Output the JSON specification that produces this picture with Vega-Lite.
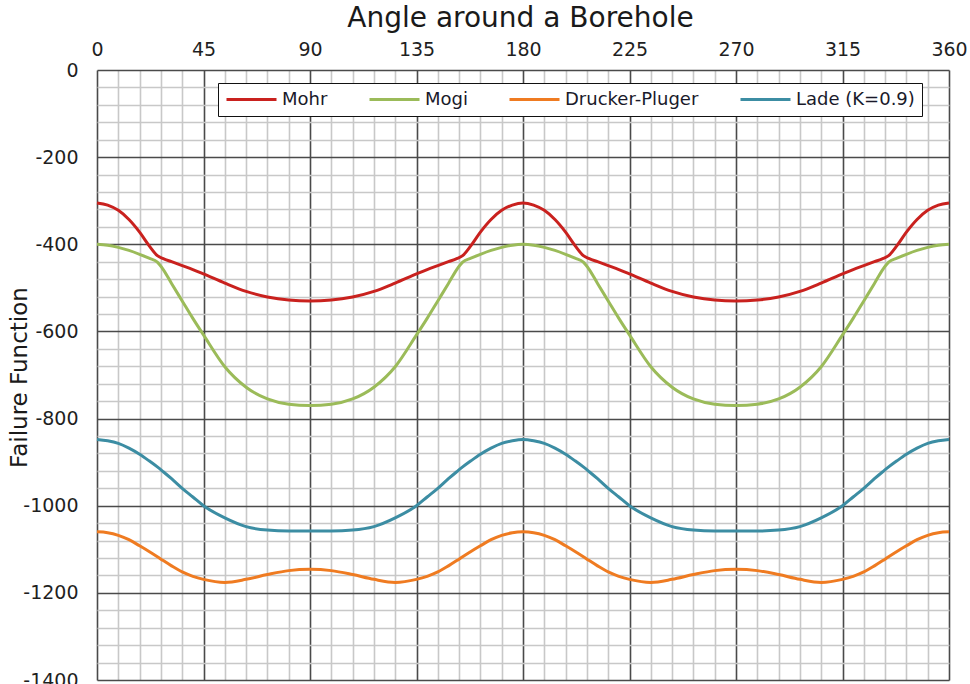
{
  "$schema": "https://vega.github.io/schema/vega-lite/v6.json",
  "width": 852,
  "height": 610,
  "autosize": {"type": "none"},
  "padding": {"left": 97, "top": 70, "right": 21, "bottom": 4},
  "background": "white",
  "config": {
    "view": {"stroke": null},
    "font": "DejaVu Sans"
  },
  "data": {
    "values": [
      {"angle":0,"criterion":"Mohr","value":-305},{"angle":4.5,"criterion":"Mohr","value":-310},{"angle":9,"criterion":"Mohr","value":-322},{"angle":13.5,"criterion":"Mohr","value":-343},{"angle":18,"criterion":"Mohr","value":-372},{"angle":22,"criterion":"Mohr","value":-403},{"angle":25.5,"criterion":"Mohr","value":-426},{"angle":28,"criterion":"Mohr","value":-433},{"angle":31.5,"criterion":"Mohr","value":-440},{"angle":36,"criterion":"Mohr","value":-449},{"angle":40.5,"criterion":"Mohr","value":-458},{"angle":45,"criterion":"Mohr","value":-468},{"angle":54,"criterion":"Mohr","value":-489},{"angle":63,"criterion":"Mohr","value":-508},{"angle":72,"criterion":"Mohr","value":-521},{"angle":81,"criterion":"Mohr","value":-528},{"angle":90,"criterion":"Mohr","value":-530},
      {"angle":99,"criterion":"Mohr","value":-528},{"angle":108,"criterion":"Mohr","value":-521},{"angle":117,"criterion":"Mohr","value":-508},{"angle":126,"criterion":"Mohr","value":-489},{"angle":135,"criterion":"Mohr","value":-468},{"angle":139.5,"criterion":"Mohr","value":-458},{"angle":144,"criterion":"Mohr","value":-449},{"angle":148.5,"criterion":"Mohr","value":-440},{"angle":152,"criterion":"Mohr","value":-433},{"angle":154.5,"criterion":"Mohr","value":-426},{"angle":158,"criterion":"Mohr","value":-403},{"angle":162,"criterion":"Mohr","value":-372},{"angle":166.5,"criterion":"Mohr","value":-343},{"angle":171,"criterion":"Mohr","value":-322},{"angle":175.5,"criterion":"Mohr","value":-310},{"angle":180,"criterion":"Mohr","value":-305},
      {"angle":184.5,"criterion":"Mohr","value":-310},{"angle":189,"criterion":"Mohr","value":-322},{"angle":193.5,"criterion":"Mohr","value":-343},{"angle":198,"criterion":"Mohr","value":-372},{"angle":202,"criterion":"Mohr","value":-403},{"angle":205.5,"criterion":"Mohr","value":-426},{"angle":208,"criterion":"Mohr","value":-433},{"angle":211.5,"criterion":"Mohr","value":-440},{"angle":216,"criterion":"Mohr","value":-449},{"angle":220.5,"criterion":"Mohr","value":-458},{"angle":225,"criterion":"Mohr","value":-468},{"angle":234,"criterion":"Mohr","value":-489},{"angle":243,"criterion":"Mohr","value":-508},{"angle":252,"criterion":"Mohr","value":-521},{"angle":261,"criterion":"Mohr","value":-528},{"angle":270,"criterion":"Mohr","value":-530},
      {"angle":279,"criterion":"Mohr","value":-528},{"angle":288,"criterion":"Mohr","value":-521},{"angle":297,"criterion":"Mohr","value":-508},{"angle":306,"criterion":"Mohr","value":-489},{"angle":315,"criterion":"Mohr","value":-468},{"angle":319.5,"criterion":"Mohr","value":-458},{"angle":324,"criterion":"Mohr","value":-449},{"angle":328.5,"criterion":"Mohr","value":-440},{"angle":332,"criterion":"Mohr","value":-433},{"angle":334.5,"criterion":"Mohr","value":-426},{"angle":338,"criterion":"Mohr","value":-403},{"angle":342,"criterion":"Mohr","value":-372},{"angle":346.5,"criterion":"Mohr","value":-343},{"angle":351,"criterion":"Mohr","value":-322},{"angle":355.5,"criterion":"Mohr","value":-310},{"angle":360,"criterion":"Mohr","value":-305},

      {"angle":0,"criterion":"Mogi","value":-400},{"angle":4.5,"criterion":"Mogi","value":-402},{"angle":9,"criterion":"Mogi","value":-407},{"angle":13.5,"criterion":"Mogi","value":-414},{"angle":18,"criterion":"Mogi","value":-423},{"angle":22,"criterion":"Mogi","value":-432},{"angle":25.5,"criterion":"Mogi","value":-441},{"angle":28,"criterion":"Mogi","value":-458},{"angle":31.5,"criterion":"Mogi","value":-490},{"angle":36,"criterion":"Mogi","value":-530},{"angle":40.5,"criterion":"Mogi","value":-570},{"angle":45,"criterion":"Mogi","value":-608},{"angle":54,"criterion":"Mogi","value":-681},{"angle":63,"criterion":"Mogi","value":-728},{"angle":72,"criterion":"Mogi","value":-755},{"angle":81,"criterion":"Mogi","value":-767},{"angle":90,"criterion":"Mogi","value":-770},
      {"angle":99,"criterion":"Mogi","value":-767},{"angle":108,"criterion":"Mogi","value":-755},{"angle":117,"criterion":"Mogi","value":-728},{"angle":126,"criterion":"Mogi","value":-681},{"angle":135,"criterion":"Mogi","value":-608},{"angle":139.5,"criterion":"Mogi","value":-570},{"angle":144,"criterion":"Mogi","value":-530},{"angle":148.5,"criterion":"Mogi","value":-490},{"angle":152,"criterion":"Mogi","value":-458},{"angle":154.5,"criterion":"Mogi","value":-441},{"angle":158,"criterion":"Mogi","value":-432},{"angle":162,"criterion":"Mogi","value":-423},{"angle":166.5,"criterion":"Mogi","value":-414},{"angle":171,"criterion":"Mogi","value":-407},{"angle":175.5,"criterion":"Mogi","value":-402},{"angle":180,"criterion":"Mogi","value":-400},
      {"angle":184.5,"criterion":"Mogi","value":-402},{"angle":189,"criterion":"Mogi","value":-407},{"angle":193.5,"criterion":"Mogi","value":-414},{"angle":198,"criterion":"Mogi","value":-423},{"angle":202,"criterion":"Mogi","value":-432},{"angle":205.5,"criterion":"Mogi","value":-441},{"angle":208,"criterion":"Mogi","value":-458},{"angle":211.5,"criterion":"Mogi","value":-490},{"angle":216,"criterion":"Mogi","value":-530},{"angle":220.5,"criterion":"Mogi","value":-570},{"angle":225,"criterion":"Mogi","value":-608},{"angle":234,"criterion":"Mogi","value":-681},{"angle":243,"criterion":"Mogi","value":-728},{"angle":252,"criterion":"Mogi","value":-755},{"angle":261,"criterion":"Mogi","value":-767},{"angle":270,"criterion":"Mogi","value":-770},
      {"angle":279,"criterion":"Mogi","value":-767},{"angle":288,"criterion":"Mogi","value":-755},{"angle":297,"criterion":"Mogi","value":-728},{"angle":306,"criterion":"Mogi","value":-681},{"angle":315,"criterion":"Mogi","value":-608},{"angle":319.5,"criterion":"Mogi","value":-570},{"angle":324,"criterion":"Mogi","value":-530},{"angle":328.5,"criterion":"Mogi","value":-490},{"angle":332,"criterion":"Mogi","value":-458},{"angle":334.5,"criterion":"Mogi","value":-441},{"angle":338,"criterion":"Mogi","value":-432},{"angle":342,"criterion":"Mogi","value":-423},{"angle":346.5,"criterion":"Mogi","value":-414},{"angle":351,"criterion":"Mogi","value":-407},{"angle":355.5,"criterion":"Mogi","value":-402},{"angle":360,"criterion":"Mogi","value":-400},

      {"angle":0,"criterion":"Drucker-Pluger","value":-1060},{"angle":4.5,"criterion":"Drucker-Pluger","value":-1062},{"angle":9,"criterion":"Drucker-Pluger","value":-1068},{"angle":13.5,"criterion":"Drucker-Pluger","value":-1078},{"angle":18,"criterion":"Drucker-Pluger","value":-1092},{"angle":22,"criterion":"Drucker-Pluger","value":-1105},{"angle":25.5,"criterion":"Drucker-Pluger","value":-1117},{"angle":28,"criterion":"Drucker-Pluger","value":-1126},{"angle":31.5,"criterion":"Drucker-Pluger","value":-1138},{"angle":36,"criterion":"Drucker-Pluger","value":-1152},{"angle":40.5,"criterion":"Drucker-Pluger","value":-1162},{"angle":45,"criterion":"Drucker-Pluger","value":-1169},{"angle":54,"criterion":"Drucker-Pluger","value":-1176},{"angle":63,"criterion":"Drucker-Pluger","value":-1169},{"angle":72,"criterion":"Drucker-Pluger","value":-1158},{"angle":81,"criterion":"Drucker-Pluger","value":-1149},{"angle":90,"criterion":"Drucker-Pluger","value":-1146},
      {"angle":99,"criterion":"Drucker-Pluger","value":-1149},{"angle":108,"criterion":"Drucker-Pluger","value":-1158},{"angle":117,"criterion":"Drucker-Pluger","value":-1169},{"angle":126,"criterion":"Drucker-Pluger","value":-1176},{"angle":135,"criterion":"Drucker-Pluger","value":-1169},{"angle":139.5,"criterion":"Drucker-Pluger","value":-1162},{"angle":144,"criterion":"Drucker-Pluger","value":-1152},{"angle":148.5,"criterion":"Drucker-Pluger","value":-1138},{"angle":152,"criterion":"Drucker-Pluger","value":-1126},{"angle":154.5,"criterion":"Drucker-Pluger","value":-1117},{"angle":158,"criterion":"Drucker-Pluger","value":-1105},{"angle":162,"criterion":"Drucker-Pluger","value":-1092},{"angle":166.5,"criterion":"Drucker-Pluger","value":-1078},{"angle":171,"criterion":"Drucker-Pluger","value":-1068},{"angle":175.5,"criterion":"Drucker-Pluger","value":-1062},{"angle":180,"criterion":"Drucker-Pluger","value":-1060},
      {"angle":184.5,"criterion":"Drucker-Pluger","value":-1062},{"angle":189,"criterion":"Drucker-Pluger","value":-1068},{"angle":193.5,"criterion":"Drucker-Pluger","value":-1078},{"angle":198,"criterion":"Drucker-Pluger","value":-1092},{"angle":202,"criterion":"Drucker-Pluger","value":-1105},{"angle":205.5,"criterion":"Drucker-Pluger","value":-1117},{"angle":208,"criterion":"Drucker-Pluger","value":-1126},{"angle":211.5,"criterion":"Drucker-Pluger","value":-1138},{"angle":216,"criterion":"Drucker-Pluger","value":-1152},{"angle":220.5,"criterion":"Drucker-Pluger","value":-1162},{"angle":225,"criterion":"Drucker-Pluger","value":-1169},{"angle":234,"criterion":"Drucker-Pluger","value":-1176},{"angle":243,"criterion":"Drucker-Pluger","value":-1169},{"angle":252,"criterion":"Drucker-Pluger","value":-1158},{"angle":261,"criterion":"Drucker-Pluger","value":-1149},{"angle":270,"criterion":"Drucker-Pluger","value":-1146},
      {"angle":279,"criterion":"Drucker-Pluger","value":-1149},{"angle":288,"criterion":"Drucker-Pluger","value":-1158},{"angle":297,"criterion":"Drucker-Pluger","value":-1169},{"angle":306,"criterion":"Drucker-Pluger","value":-1176},{"angle":315,"criterion":"Drucker-Pluger","value":-1169},{"angle":319.5,"criterion":"Drucker-Pluger","value":-1162},{"angle":324,"criterion":"Drucker-Pluger","value":-1152},{"angle":328.5,"criterion":"Drucker-Pluger","value":-1138},{"angle":332,"criterion":"Drucker-Pluger","value":-1126},{"angle":334.5,"criterion":"Drucker-Pluger","value":-1117},{"angle":338,"criterion":"Drucker-Pluger","value":-1105},{"angle":342,"criterion":"Drucker-Pluger","value":-1092},{"angle":346.5,"criterion":"Drucker-Pluger","value":-1078},{"angle":351,"criterion":"Drucker-Pluger","value":-1068},{"angle":355.5,"criterion":"Drucker-Pluger","value":-1062},{"angle":360,"criterion":"Drucker-Pluger","value":-1060},

      {"angle":0,"criterion":"Lade (K=0.9)","value":-848},{"angle":4.5,"criterion":"Lade (K=0.9)","value":-851},{"angle":9,"criterion":"Lade (K=0.9)","value":-857},{"angle":13.5,"criterion":"Lade (K=0.9)","value":-868},{"angle":18,"criterion":"Lade (K=0.9)","value":-882},{"angle":22,"criterion":"Lade (K=0.9)","value":-897},{"angle":25.5,"criterion":"Lade (K=0.9)","value":-911},{"angle":28,"criterion":"Lade (K=0.9)","value":-922},{"angle":31.5,"criterion":"Lade (K=0.9)","value":-938},{"angle":36,"criterion":"Lade (K=0.9)","value":-960},{"angle":40.5,"criterion":"Lade (K=0.9)","value":-980},{"angle":45,"criterion":"Lade (K=0.9)","value":-1000},{"angle":54,"criterion":"Lade (K=0.9)","value":-1028},{"angle":63,"criterion":"Lade (K=0.9)","value":-1048},{"angle":72,"criterion":"Lade (K=0.9)","value":-1056},{"angle":81,"criterion":"Lade (K=0.9)","value":-1058},{"angle":90,"criterion":"Lade (K=0.9)","value":-1058},
      {"angle":99,"criterion":"Lade (K=0.9)","value":-1058},{"angle":108,"criterion":"Lade (K=0.9)","value":-1056},{"angle":117,"criterion":"Lade (K=0.9)","value":-1048},{"angle":126,"criterion":"Lade (K=0.9)","value":-1028},{"angle":135,"criterion":"Lade (K=0.9)","value":-1000},{"angle":139.5,"criterion":"Lade (K=0.9)","value":-980},{"angle":144,"criterion":"Lade (K=0.9)","value":-960},{"angle":148.5,"criterion":"Lade (K=0.9)","value":-938},{"angle":152,"criterion":"Lade (K=0.9)","value":-922},{"angle":154.5,"criterion":"Lade (K=0.9)","value":-911},{"angle":158,"criterion":"Lade (K=0.9)","value":-897},{"angle":162,"criterion":"Lade (K=0.9)","value":-882},{"angle":166.5,"criterion":"Lade (K=0.9)","value":-868},{"angle":171,"criterion":"Lade (K=0.9)","value":-857},{"angle":175.5,"criterion":"Lade (K=0.9)","value":-851},{"angle":180,"criterion":"Lade (K=0.9)","value":-848},
      {"angle":184.5,"criterion":"Lade (K=0.9)","value":-851},{"angle":189,"criterion":"Lade (K=0.9)","value":-857},{"angle":193.5,"criterion":"Lade (K=0.9)","value":-868},{"angle":198,"criterion":"Lade (K=0.9)","value":-882},{"angle":202,"criterion":"Lade (K=0.9)","value":-897},{"angle":205.5,"criterion":"Lade (K=0.9)","value":-911},{"angle":208,"criterion":"Lade (K=0.9)","value":-922},{"angle":211.5,"criterion":"Lade (K=0.9)","value":-938},{"angle":216,"criterion":"Lade (K=0.9)","value":-960},{"angle":220.5,"criterion":"Lade (K=0.9)","value":-980},{"angle":225,"criterion":"Lade (K=0.9)","value":-1000},{"angle":234,"criterion":"Lade (K=0.9)","value":-1028},{"angle":243,"criterion":"Lade (K=0.9)","value":-1048},{"angle":252,"criterion":"Lade (K=0.9)","value":-1056},{"angle":261,"criterion":"Lade (K=0.9)","value":-1058},{"angle":270,"criterion":"Lade (K=0.9)","value":-1058},
      {"angle":279,"criterion":"Lade (K=0.9)","value":-1058},{"angle":288,"criterion":"Lade (K=0.9)","value":-1056},{"angle":297,"criterion":"Lade (K=0.9)","value":-1048},{"angle":306,"criterion":"Lade (K=0.9)","value":-1028},{"angle":315,"criterion":"Lade (K=0.9)","value":-1000},{"angle":319.5,"criterion":"Lade (K=0.9)","value":-980},{"angle":324,"criterion":"Lade (K=0.9)","value":-960},{"angle":328.5,"criterion":"Lade (K=0.9)","value":-938},{"angle":332,"criterion":"Lade (K=0.9)","value":-922},{"angle":334.5,"criterion":"Lade (K=0.9)","value":-911},{"angle":338,"criterion":"Lade (K=0.9)","value":-897},{"angle":342,"criterion":"Lade (K=0.9)","value":-882},{"angle":346.5,"criterion":"Lade (K=0.9)","value":-868},{"angle":351,"criterion":"Lade (K=0.9)","value":-857},{"angle":355.5,"criterion":"Lade (K=0.9)","value":-851},{"angle":360,"criterion":"Lade (K=0.9)","value":-848}
    ]
  },
  "mark": {"type": "line", "interpolate": "monotone", "strokeWidth": 3},
  "encoding": {
    "x": {
      "field": "angle",
      "type": "quantitative",
      "scale": {"domain": [0, 360], "nice": false, "zero": false},
      "axis": {
        "orient": "top",
        "title": "Angle around a Borehole",
        "titleFont": "DejaVu Sans",
        "titleFontSize": 28,
        "titleFontWeight": "normal",
        "titleColor": "#1a1a1a",
        "titleX": 423,
        "titleY": -44,
        "titleAlign": "center",
        "titleBaseline": "alphabetic",
        "values": [0,9,18,27,36,45,54,63,72,81,90,99,108,117,126,135,144,153,162,171,180,189,198,207,216,225,234,243,252,261,270,279,288,297,306,315,324,333,342,351,360],
        "labelExpr": "datum.value % 45 === 0 ? '' + datum.value : ''",
        "labelFont": "DejaVu Sans",
        "labelFontSize": 19,
        "labelColor": "#1f1f1f",
        "labelPadding": 11,
        "labelFlush": false,
        "labelOverlap": false,
        "ticks": false,
        "domain": false,
        "grid": true,
        "gridColor": {"condition": {"test": "datum.value % 45 === 0", "value": "#4a4a4a"}, "value": "#c8c8c8"},
        "gridWidth": 1.6,
        "gridOpacity": 1
      }
    },
    "y": {
      "field": "value",
      "type": "quantitative",
      "scale": {"domain": [-1400, 0], "nice": false, "zero": false},
      "axis": {
        "title": "Failure Function",
        "titleFont": "DejaVu Sans",
        "titleFontSize": 23,
        "titleFontWeight": "normal",
        "titleColor": "#1a1a1a",
        "titleAngle": 270,
        "titleX": -71,
        "titleY": 307,
        "titleAlign": "center",
        "titleBaseline": "alphabetic",
        "values": [0,-40,-80,-120,-160,-200,-240,-280,-320,-360,-400,-440,-480,-520,-560,-600,-640,-680,-720,-760,-800,-840,-880,-920,-960,-1000,-1040,-1080,-1120,-1160,-1200,-1240,-1280,-1320,-1360,-1400],
        "labelExpr": "datum.value % 200 === 0 ? '' + datum.value : ''",
        "labelFont": "DejaVu Sans",
        "labelFontSize": 19,
        "labelColor": "#1f1f1f",
        "labelPadding": 19,
        "labelFlush": false,
        "labelOverlap": false,
        "ticks": false,
        "domain": false,
        "grid": true,
        "gridColor": {"condition": {"test": "datum.value % 200 === 0", "value": "#4a4a4a"}, "value": "#c8c8c8"},
        "gridWidth": 1.6,
        "gridOpacity": 1
      }
    },
    "color": {
      "field": "criterion",
      "type": "nominal",
      "sort": ["Mohr", "Mogi", "Drucker-Pluger", "Lade (K=0.9)"],
      "scale": {
        "domain": ["Mohr", "Mogi", "Drucker-Pluger", "Lade (K=0.9)"],
        "range": ["#C9211E", "#9BBB59", "#EF7B21", "#3C8DA3"]
      },
      "legend": {
        "title": null,
        "orient": "none",
        "legendX": 121,
        "legendY": 13,
        "direction": "horizontal",
        "columns": 4,
        "columnPadding": 40,
        "padding": 7,
        "fillColor": "white",
        "strokeColor": "#111111",
        "symbolType": "stroke",
        "symbolSize": 2500,
        "symbolStrokeWidth": 3,
        "clipHeight": 19,
        "labelFont": "DejaVu Sans",
        "labelFontSize": 18,
        "labelColor": "#1a1a2a",
        "labelOffset": 4,
        "labelLimit": 300
      }
    }
  }
}
